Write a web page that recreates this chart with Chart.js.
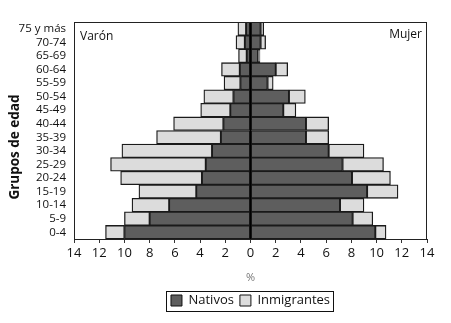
<!DOCTYPE html>
<html>
<head>
<meta charset="utf-8">
<script src="https://cdn.jsdelivr.net/npm/chart.js@4/dist/chart.umd.min.js"></script>
<style>
html,body{margin:0;padding:0;background:#fff;}
#wrap{position:relative;width:451px;height:323px;}
</style>
</head>
<body>
<div id="wrap"><canvas id="c" width="451" height="323"></canvas></div>
<script>
// Age groups, top to bottom
const ageGroups = ["75 y más","70-74","65-69","60-64","55-59","50-54","45-49","40-44","35-39","30-34","25-29","20-24","15-19","10-14","5-9","0-4"];
// Percentages (same order as ageGroups)
const varonNativos      = [0.35,0.45,0.3,0.85,0.8,1.35,1.6,2.15,2.35,3.05,3.55,3.85,4.3,6.45,8.0,10.0];
const varonInmigrantes  = [0.65,0.7,0.65,1.45,1.3,2.35,2.35,3.95,5.1,7.15,7.55,6.45,4.55,2.95,2.0,1.5];
const mujerNativos      = [0.8,0.8,0.6,2.0,1.35,3.05,2.6,4.4,4.4,6.2,7.3,8.05,9.25,7.1,8.1,9.9];
const mujerInmigrantes  = [0.25,0.4,0.15,0.95,0.45,1.3,1.0,1.8,1.8,2.8,3.25,3.05,2.45,1.9,1.6,0.85];
const xTicks = [-14,-12,-10,-8,-6,-4,-2,0,2,4,6,8,10,12,14];

const DARK = '#5e5e5e', LIGHT = '#dcdcdc', EDGE = '#1a1a1a';
const FONT = "'Open Sans', 'Noto Sans', sans-serif";

const neg = a => a.map(v => -v);

const decor = {
  id: 'decor',
  afterDatasetsDraw(chart) {
    const {ctx, chartArea: ca, scales: {x}} = chart;
    ctx.save();
    const x0 = x.getPixelForValue(0);
    ctx.strokeStyle = '#000';
    ctx.lineWidth = 1.5;
    ctx.beginPath();
    ctx.moveTo(x0, ca.top); ctx.lineTo(x0, ca.bottom);
    ctx.stroke();
    ctx.lineWidth = 1;
    ctx.strokeStyle = '#222';
    ctx.strokeRect(ca.left + 0.5, ca.top + 0.5, ca.right - ca.left - 1, ca.bottom - ca.top);
    ctx.fillStyle = '#111';
    ctx.font = "12px " + FONT;
    ctx.textBaseline = 'middle';
    ctx.textAlign = 'left';
    ctx.fillText('Varón', ca.left + 6, ca.top + 15);
    ctx.textAlign = 'right';
    ctx.fillText('Mujer', ca.right - 5, ca.top + 13);
    ctx.save();
    ctx.translate(15, 147);
    ctx.rotate(-Math.PI / 2);
    ctx.textAlign = 'center';
    ctx.font = "bold 13.5px " + FONT;
    ctx.fillText('Grupos de edad', 0, 0);
    ctx.restore();
    ctx.restore();
  },
  afterDraw(chart) {
    const lg = chart.legend;
    if (!lg || !lg.legendHitBoxes || !lg.legendHitBoxes.length) return;
    const hb = lg.legendHitBoxes;
    const l = Math.min(...hb.map(h => h.left)) - 5;
    const r = Math.max(...hb.map(h => h.left + h.width)) + 3;
    const t = Math.min(...hb.map(h => h.top)) - 3;
    const b = Math.max(...hb.map(h => h.top + h.height)) + 4;
    const ctx = chart.ctx;
    ctx.save();
    ctx.strokeStyle = '#111';
    ctx.lineWidth = 1;
    ctx.strokeRect(Math.round(l) + 0.5, Math.round(t) + 0.5, Math.round(r - l), Math.round(b - t));
    ctx.restore();
  }
};

const common = {borderColor: EDGE, borderWidth: 1.3, borderSkipped: false, categoryPercentage: 1.0, barPercentage: 1.0, stack: 's'};

new Chart(document.getElementById('c'), {
  type: 'bar',
  data: {
    labels: ageGroups,
    datasets: [
      Object.assign({label: 'Nativos', data: neg(varonNativos), backgroundColor: DARK}, common),
      Object.assign({label: 'Inmigrantes', data: neg(varonInmigrantes), backgroundColor: LIGHT}, common),
      Object.assign({label: 'Nativos M', data: mujerNativos, backgroundColor: DARK}, common),
      Object.assign({label: 'Inmigrantes M', data: mujerInmigrantes, backgroundColor: LIGHT}, common)
    ]
  },
  options: {
    indexAxis: 'y',
    responsive: false,
    animation: false,
    layout: {padding: {left: 0, right: 24, top: 22, bottom: 6}},
    scales: {
      x: {
        type: 'linear', stacked: true, min: -14, max: 14,
        afterBuildTicks(s) { s.ticks = xTicks.map(v => ({value: v})); },
        afterFit(s) { s.height = 49; },
        ticks: {
          color: '#111', font: {family: FONT, size: 13}, padding: 2,
          callback: v => String(Math.abs(v))
        },
        grid: {display: true, drawOnChartArea: false, drawTicks: true, tickLength: 4, tickColor: '#333', tickWidth: 1},
        border: {display: true, color: '#222', width: 1},
        title: {display: true, text: '%', color: '#777', font: {family: FONT, size: 11}, padding: {top: 0, bottom: 4}}
      },
      y: {
        stacked: true,
        afterFit(s) { s.width = 74; },
        ticks: {color: '#111', font: {family: FONT, size: 11.5}, padding: 8, autoSkip: false},
        grid: {display: false, drawTicks: false},
        border: {display: true, color: '#222', width: 1}
      }
    },
    plugins: {
      legend: {
        position: 'bottom',
        fullSize: false,
        labels: {
          color: '#111',
          font: {family: FONT, size: 13},
          boxWidth: 11, boxHeight: 11, padding: 6,
          generateLabels(chart) {
            const ds = chart.data.datasets;
            return [0, 1].map(i => ({
              text: ds[i].label, fillStyle: ds[i].backgroundColor, strokeStyle: '#111', lineWidth: 1,
              datasetIndex: i, hidden: false, fontColor: '#111'
            }));
          }
        }
      },
      tooltip: {enabled: false}
    }
  },
  plugins: [decor]
});
</script>
</body>
</html>
